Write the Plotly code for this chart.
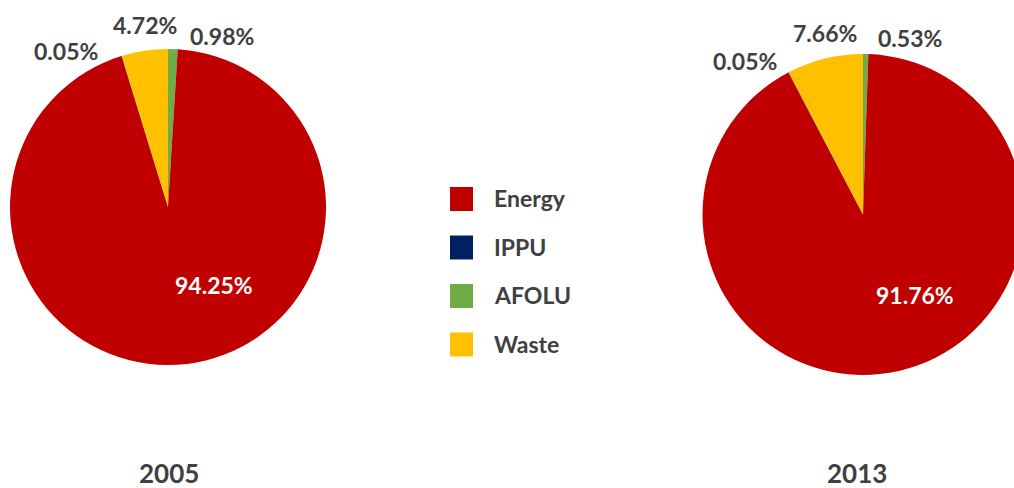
import plotly.graph_objects as go

# ---- data ----
categories = ["Energy", "IPPU", "AFOLU", "Waste"]
colors = ["#C00000", "#002060", "#70AD47", "#FFC000"]
years = ["2005", "2013"]
share_2005 = [94.25, 0.05, 0.98, 4.72]
share_2013 = [91.76, 0.05, 0.53, 7.66]

# slice order, clockwise from 12 o'clock (AFOLU, Energy, IPPU, Waste)
slice_order = [2, 0, 1, 3]

W, H = 1024, 488
FONT = "Lato"
GREY = "#404040"

# layout: pie geometry (centre x, centre y, radius in px) and label placement (px)
pie_geom = [(168, 207, 158), (863, 214.5, 160.5)]
label_pos = [
    {"Energy": (214, 285), "IPPU": (66, 51), "AFOLU": (222, 36), "Waste": (145, 25)},
    {"Energy": (915, 295), "IPPU": (745, 61), "AFOLU": (910, 38), "Waste": (825, 33)},
]
title_x = [169, 857]


def px_x(v):
    return v / W


def px_y(v):
    return 1 - v / H


def make_pie(values, cx, cy, r):
    labels = [categories[i] for i in slice_order]
    vals = [values[i] for i in slice_order]
    cols = [colors[i] for i in slice_order]
    return go.Pie(
        labels=labels,
        values=vals,
        sort=False,
        direction="clockwise",
        rotation=0,
        marker=dict(colors=cols, line=dict(width=0)),
        textinfo="none",
        hoverinfo="skip",
        showlegend=False,
        domain=dict(x=[px_x(cx - r), px_x(cx + r)], y=[px_y(cy + r), px_y(cy - r)]),
    )


fig = go.Figure()
shapes = []
annotations = []

for values, (cx, cy, r), lp in zip([share_2005, share_2013], pie_geom, label_pos):
    fig.add_trace(make_pie(values, cx, cy, r))
    for name, v in zip(categories, values):
        x, y = lp[name]
        annotations.append(dict(
            text=f"{v:.2f}%", xref="paper", yref="paper",
            x=px_x(x), y=px_y(y), xanchor="center", yanchor="middle", showarrow=False,
            font=dict(family=FONT, size=23, weight="bold",
                      color="white" if name == "Energy" else GREY)))

# custom legend (order Energy, IPPU, AFOLU, Waste)
for k, (name, col) in enumerate(zip(categories, colors)):
    top = 187 + 48.5 * k
    shapes.append(dict(type="rect", xref="paper", yref="paper",
                       x0=px_x(450), x1=px_x(473), y0=px_y(top + 24), y1=px_y(top),
                       fillcolor=col, line=dict(width=0)))
    annotations.append(dict(text=name, xref="paper", yref="paper",
                            x=px_x(492), y=px_y(top + 11), xanchor="left", yanchor="middle",
                            showarrow=False,
                            font=dict(family=FONT, size=23, color=GREY, weight="bold")))

for yr, cx in zip(years, title_x):
    annotations.append(dict(text=yr, xref="paper", yref="paper",
                            x=px_x(cx), y=px_y(473), xanchor="center", yanchor="middle",
                            showarrow=False,
                            font=dict(family=FONT, size=26, color=GREY, weight="bold")))

fig.update_layout(
    width=W, height=H, autosize=False,
    margin=dict(l=0, r=0, t=0, b=0),
    paper_bgcolor="white", plot_bgcolor="white",
    shapes=shapes, annotations=annotations,
)

fig.write_html("out.html", config={"displayModeBar": False},
               post_script="document.body.style.margin='0';document.body.style.overflow='hidden';"
                           "document.documentElement.style.overflow='hidden';")
